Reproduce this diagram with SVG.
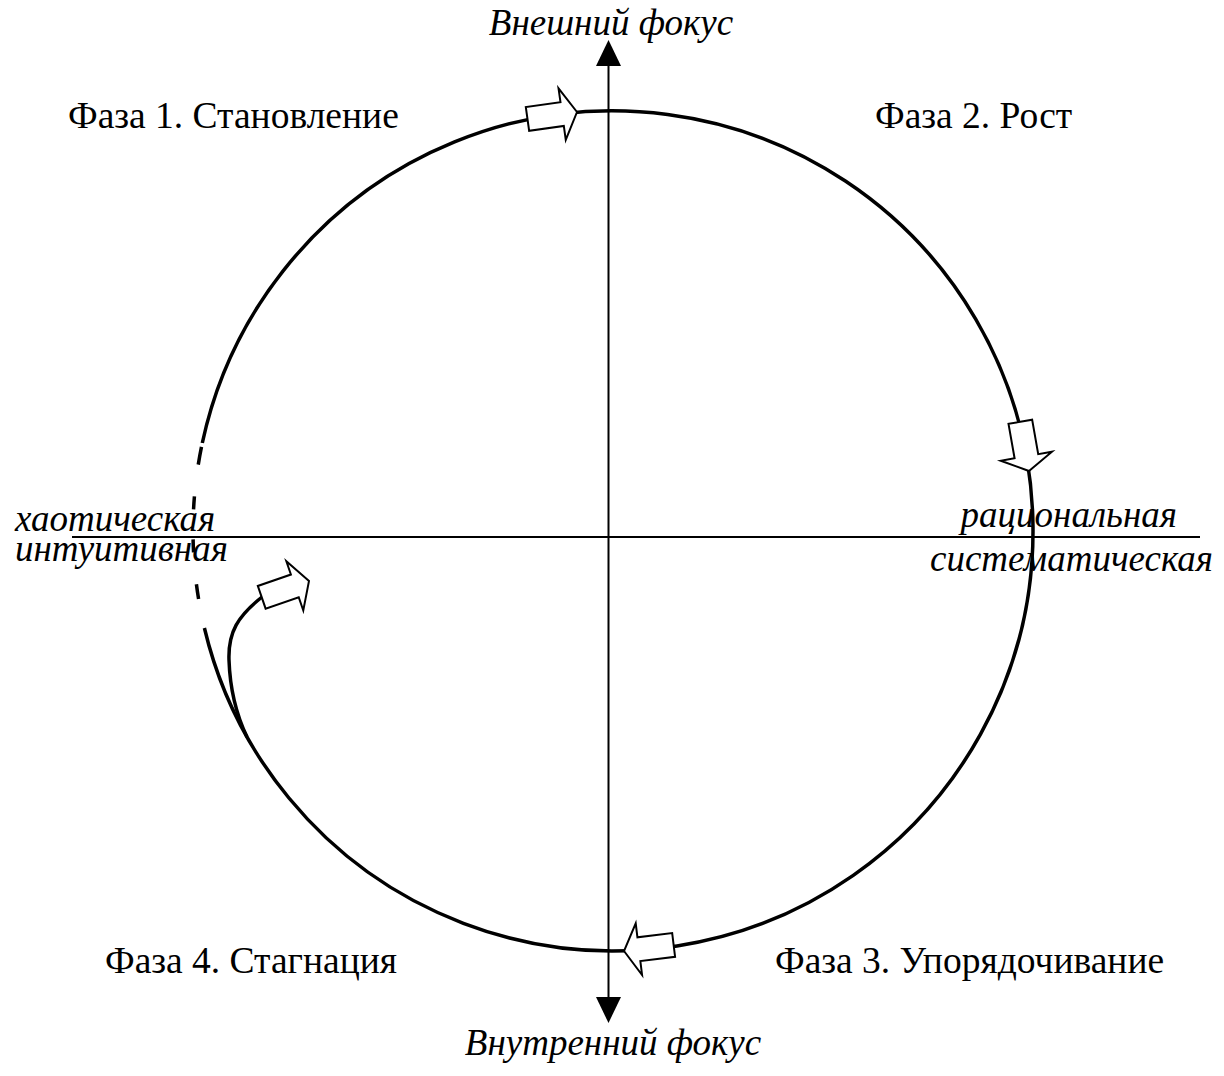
<svg xmlns="http://www.w3.org/2000/svg" width="1224" height="1076" viewBox="0 0 1224 1076">
<style>
.lbl{font-family:"Liberation Serif","Times New Roman",serif;font-size:37.5px;fill:#000}
.it{font-family:"Liberation Serif","Times New Roman",serif;font-size:37px;font-style:italic;fill:#000}
.axis{stroke:#000;stroke-width:2;fill:none}
.ring{stroke:#000;stroke-width:3.5;fill:none}
.blk{fill:#fff;stroke:#000;stroke-width:2;stroke-linejoin:miter}
</style>
<defs>
<polygon id="blockArrow" points="0,0 -15,-26 -15,-12 -50,-12 -50,12 -15,12 -15,26"/>
</defs>
<rect width="1224" height="1076" fill="#fff"/>
<g id="axes">
<line class="axis" x1="72" y1="537" x2="1200" y2="537"/>
<line class="axis" x1="608.5" y1="62" x2="608.5" y2="1000"/>
<polygon points="608.5,40 596,66 621,66" fill="#000"/>
<polygon points="608.5,1023 596,997 621,997" fill="#000"/>
</g>
<g id="connectors">
<path class="ring" d="M 202.3 443 A 420 420 0 1 1 204.4 628"/>
<path class="ring" d="M 202.3 443 A 420 420 0 0 0 204.4 628" stroke-dasharray="0 4 18 32 13 30 13 32 15 100"/>
<path class="ring" d="M 262 597 C 238 616 228 632 229 660 C 230 690 236 714 247 737"/>
</g>
<g id="arrows">
<use href="#blockArrow" class="blk" transform="translate(577,112) rotate(-8)"/>
<use href="#blockArrow" class="blk" transform="translate(1029,471) rotate(80)"/>
<use href="#blockArrow" class="blk" transform="translate(624,951) rotate(173)"/>
<use href="#blockArrow" class="blk" transform="translate(309,581) rotate(-19)"/>
</g>
<g id="top-label"><text class="it" x="611" y="35" text-anchor="middle">Внешний фокус</text></g>
<g id="bottom-label"><text class="it" x="613" y="1055" text-anchor="middle">Внутренний фокус</text></g>
<g id="left-label"><text class="it" x="15" y="531">хаотическая</text><text class="it" x="15" y="561">интуитивная</text></g>
<g id="right-label"><text class="it" x="1177" y="527" text-anchor="end">рациональная</text><text class="it" x="1213" y="571" text-anchor="end">систематическая</text></g>
<g id="phase1"><text class="lbl" x="68" y="128">Фаза 1. Становление</text></g>
<g id="phase2"><text class="lbl" x="875" y="128">Фаза 2. Рост</text></g>
<g id="phase3"><text class="lbl" x="775" y="973">Фаза 3. Упорядочивание</text></g>
<g id="phase4"><text class="lbl" x="105" y="973">Фаза 4. Стагнация</text></g>
</svg>
